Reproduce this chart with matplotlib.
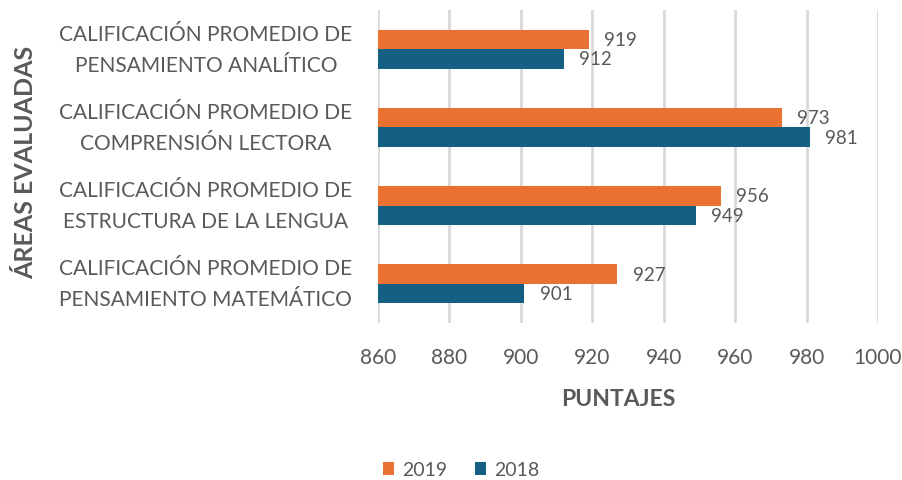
import matplotlib.pyplot as plt
import numpy as np

plt.rcParams['font.family'] = ['Lato', 'DejaVu Sans']

categories = [
    'CALIFICACIÓN PROMEDIO DE\nPENSAMIENTO MATEMÁTICO',
    'CALIFICACIÓN PROMEDIO DE\nESTRUCTURA DE LA LENGUA',
    'CALIFICACIÓN PROMEDIO DE\nCOMPRENSIÓN LECTORA',
    'CALIFICACIÓN PROMEDIO DE\nPENSAMIENTO ANALÍTICO',
]
values_2019 = [927, 956, 973, 919]
values_2018 = [901, 949, 981, 912]
xticks = [860, 880, 900, 920, 940, 960, 980, 1000]

orange = '#E97132'
blue = '#156082'
grey = '#595959'

fig = plt.figure(figsize=(9.03, 4.81), dpi=100)
ax = fig.add_axes([378 / 903, 1 - 324 / 481, 500 / 903, 313 / 481])

y = np.arange(len(categories))
h = 0.25
b19 = ax.barh(y + h / 2, values_2019, height=h, color=orange, label='2019', zorder=3)
b18 = ax.barh(y - h / 2, values_2018, height=h, color=blue, label='2018', zorder=3)

for bars in (b19, b18):
    for bar in bars:
        w = bar.get_width()
        ax.annotate(str(int(w)), (w, bar.get_y() + bar.get_height() / 2),
                    xytext=(11, 0), textcoords='offset points',
                    va='center', ha='left', fontsize=13.5, color=grey)

ax.set_xlim(860, 1000)
ax.set_ylim(-0.5, 3.5)
ax.set_xticks(xticks)
ax.set_yticks(y)
ax.set_yticklabels(categories, fontsize=15, color=grey, linespacing=1.7,
                   ha='center', va='center')
ax.tick_params(axis='y', length=0, pad=124)
ax.tick_params(axis='x', length=0, pad=17, labelsize=15, labelcolor=grey)
ax.grid(axis='x', color='#d9d9d9', linewidth=2, zorder=0)
for s in ax.spines.values():
    s.set_visible(False)

fig.text(618 / 903, 1 - 400 / 481, 'PUNTAJES', ha='center', va='center',
         fontsize=16.5, fontweight='bold', color=grey)
fig.text(26 / 903, 1 - 162 / 481, 'ÁREAS EVALUADAS', ha='center', va='center',
         rotation=90, fontsize=18, fontweight='bold', color=grey)

fig.legend(handles=[b19, b18], loc='center', bbox_to_anchor=(461 / 903, 1 - 471 / 481),
           ncol=2, frameon=False, fontsize=14, labelcolor=grey,
           handlelength=0.6, handleheight=0.6, handletextpad=0.4, columnspacing=1.4)

fig.savefig('out.png', dpi=100)
